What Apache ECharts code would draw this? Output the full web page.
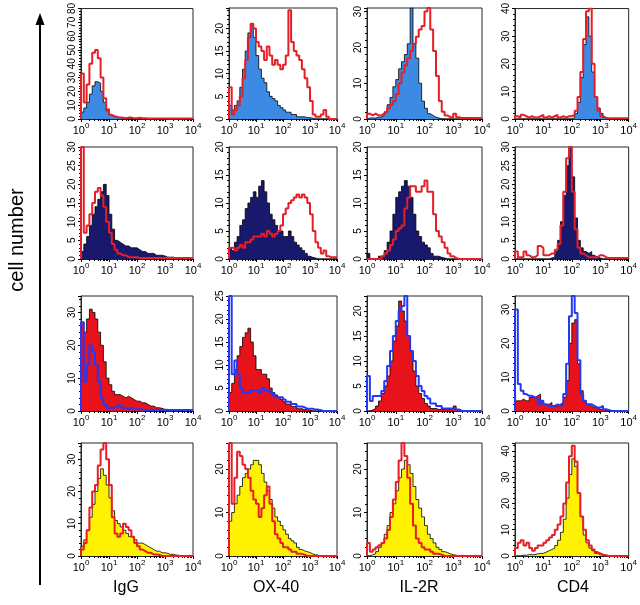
<!DOCTYPE html>
<html><head><meta charset="utf-8">
<script src="https://cdn.jsdelivr.net/npm/echarts@6/dist/echarts.min.js"></script>
<style>html,body{margin:0;padding:0;background:#fff}#c{width:640px;height:605px}</style>
</head><body><div id="c"></div>
<script>
// ---- categories / axis settings ----
const markers = ['IgG', 'OX-40', 'IL-2R', 'CD4'];
const axisLabel = 'cell number';
const yMaxes = [[80, 24.5, 31, 40], [30, 20, 20, 30], [35, 25, 23, 34], [35, 26, 26, 43]];
const yIntervals = [[10, 5, 10, 10], [5, 5, 5, 5], [10, 5, 5, 10], [10, 10, 10, 10]];
const xDecades = [0, 1, 2, 3, 4];

// ---- histogram counts, 10 bins per decade from 10^0 to 10^4 ----
// row 1
const iggFill1 = [5,8,12,18,24,27,26,20,12,6, 3,2,1.5,1,1,0.5,0.5,0.5,0.3,0.3, 0.5,0.3,0.2];
const iggLine1 = [33,12,25,40,48,50,44,30,15,7, 3,2,1.5,1,1,0.5,1,1,0.5,0.5, 1,0.5,0.5,0.3,0.3,0.3,0.3,0.3,0.3,0.3, 0.3,0.3,0.3,0.3,0.3,0.3,0.3,0.3,0.3,0.3];
const ox40Fill1 = [3,2,3,4,7,11,15,19,21,18, 14,11,9,8,6,5,4.5,4,3,2.5, 2,1.5,1.5,1,1,0.5,0.5,0.5,0.3,0.3, 0.2];
const ox40Line1 = [7,1,2,3,5,9,13,18,21,20, 17,16,15,13,16,14,12,13,12,11, 12,14,24,17,15,14,13,11,9,7, 4,1,0.5,0.5,1,2,0.5,0,0,0];
const il2rFill1 = [0.3,0.3,0.3,0.5,0.5,1,2,4,6,9, 11,14,16,18,21,31,21,17,10,5, 3,1.5,1,0.5,0.3];
const il2rLine1 = [1.5,1,1.5,1,1,1.5,2,3,4,5, 7,10,13,15,17,19,21,23,25,26, 30,31,25,19,12,5,2,1,0.5,0.5, 1.5,0.5,0.3,0.3,0.3,0.3,0.3,0.3,0.3,0.3];
const cd4Fill1 = [0,0,0,0,0,0,0,0,0,0, 0,0,0,0,0,0,0,0,0,0, 0.5,2,6,15,27,37,30,17,8,4, 2,0.5];
const cd4Line1 = [1,0.5,1.5,1,0.5,1,0.5,0.5,1,1.5, 0.5,1,0.5,1,1.5,0.5,1,0.5,1,1, 1.5,3,8,17,29,39,40,20,8,3, 1,0.5,0.3,0.3,0.3,0.3,0.3,0.3,0.3,0.3];
// row 2
const iggFill2 = [2,4,6,9,12,14,16,18,20,17, 12,8,5,4.5,4,3.5,3.5,3,3,3, 2.5,2,2,1.5,1.5,1.5,1,1,1,0.8, 0.5,0.5,0.5,0.3,0.3,0.2];
const iggLine2 = [30,7,9,12,15,18,19,17,14,10, 7,4,2.5,1.5,1,1,0.5,0.5,0.5,0.5, 0.3,0.3,0.3,0.3,0.3,0.3,0.3,0.3,0.3,0.3, 0.3,0.3,0.3,0.3,0.3,0.3,0.3,0.3,0.3,0.3];
const ox40Fill2 = [2,1.5,3,4,6,7,9,10,11,12, 11,13,14,12,10,8,7,6,5,5, 4,4,5,4,3,2.5,2,1.5,1,0.5, 0.3,0.2];
const ox40Line2 = [2,2,1.5,2,2.5,2,3,3,3.5,4, 4,4,4.5,4,5,4.5,4,4.5,5,6, 8,9,10,10.5,11,11.5,11,11.5,11,10, 8,5,3,2,1,1.5,0.5,0.3,0.3,0.3];
const il2rFill2 = [1,0,0,0,0.5,0.5,1.5,3,5,8, 11,12,13,14,13,11,8,5,4,3, 2.5,2,1,0.5,0.5,0.3,0.2];
const il2rLine2 = [0,0,0,0,0,0.5,1,1.5,2.5,3.5, 5,5.5,6,9,11,13,13,12,12,13, 14,12,12,8,5,4,3,2,1,0.5, 0.2];
const cd4Fill2 = [0,0,0,0,0,0,0,0,0,0, 0,0,0.3,0.5,2,5,10,17,25,30, 22,11,5,3,2,1.5,2,1,0.5,0.3];
const cd4Line2 = [2,0.5,0.5,2,1,0.5,0.5,1,3.5,3, 1,1,1.5,1.5,2.5,4,9,18,27,30, 18,8,3,1.5,1,0.5,0.5,0.5,0.5,1, 1,0.5,0.3,0.3,0.3,0.3,0.3,0.3,0.3,0.3];
// row 3
const iggFill3 = [27,24,28,31,30,28,24,20,15,10, 8,6,5,5,4.5,4,4.5,4,3.5,3, 3,2.5,2.5,2,1.5,1.5,1,1,0.8,0.5, 0.5,0.3,0.3,0.2];
const iggLine3 = [27,9,14,20,18,14,9,4,2,1, 1,1,1.5,2,1,1,0.5,1,0.5,0.5, 0.5,0.5,0.3,0.3,0.3,0.3,0.3,0.3,0.3,0.3, 0.3,0.3,0.3,0.3,0.3,0.3,0.3,0.3,0.3,0.3];
const ox40Fill3 = [4,6,9,12,14,16,17,18,15,12, 9,9,8,8,7,5,4,3.5,3,2.5, 2,1.5,1.5,1,1,0.5,0.5,0.3,0.3,0.2];
const ox40Line3 = [25,8,11,8,5,4,4,4,4.5,4.5, 4.5,4,5,4.5,4.5,4,3.5,3,3,3, 2.5,2,2,1.5,1.5,1,1,0.8,0.5,0.5, 0.5,0.3,0.3,0.2];
const il2rFill3 = [0,0.2,0.5,1,2,3.5,5,7,10,14, 17,22,20,18,15,12,8,5,3.5,2.5, 1.5,1,0.5,0.5,0.3,0.3,0.3,0.3,0.3,0.5, 1,0.3];
const il2rLine3 = [7,2,3,3,3,4,6,9,12,15, 18,20,21,23,15,12,10,7,5,4, 3,2.5,1.5,1.5,1,1,0.5,0.5,0.5,0.5, 0.3,0.3];
const cd4Fill3 = [3,3,3.5,3,3,4,4,4.5,5,3, 2,2,2.5,1.5,1.5,2,2.5,4,9,20, 26,27,14,6,3,2,1.5,1,1,0.5, 0.5,0.3];
const cd4Line3 = [30,8,6,5,4.5,4.5,4,4,2,3, 2,1.5,1.5,1.5,2,1.5,2,5,14,28, 34,29,15,5,3,2,2,1.5,1,1, 1.5,0.5,0.3];
// row 4
const iggFill4 = [3,5,8,12,16,20,24,27,25,22, 18,14,11,10,9,8,7,6,6,5, 4,4,3.5,3,2.5,2,1.5,1.5,1,1, 0.8,0.5,0.5,0.3,0.2];
const iggLine4 = [2,4,8,15,20,22,28,33,35,30, 22,12,7,6,7,10,9,8,6,4, 3,2,1.5,1,1,0.5,0.5,0.3];
const ox40Fill4 = [8,10,12,14,16,18,19,20,21,22, 22,21,19,17,15,13,11,9,8,7, 6,5,4,3.5,3,2,1.5,1.2,1,0.8, 0.5,0.3,0.2];
const ox40Line4 = [26,12,18,24,23,21,20,18,15,13, 12,9,11,14,16,12,8,5,4,3, 2,2,1.5,1,1,0.5,0.5,0.3];
const il2rFill4 = [0,0.3,0.5,1,2,3,5,7,10,12, 15,18,20,22,21,19,16,13,11,9, 7,5,4,3,2,1.5,1,0.8,0.5,0.3, 0.2];
const il2rLine4 = [3,1,1.5,2,2.5,3,4,6,9,13, 17,22,26,23,18,12,7,4,3,2, 1.5,1.5,1,0.5,0.5,0.3];
const cd4Fill4 = [0,0,0.3,0.3,0.5,0.5,0.5,0.8,1,1, 1.5,2,2.5,3,4,6,9,14,22,31, 37,34,24,15,8,5,3,2,1,0.5, 0.3];
const cd4Line4 = [3,5,6,4,5,3,2,3,4,4, 5,6,7,8,10,12,15,20,28,38, 42,36,24,15,10,6,4,2.5,1.5,1, 0.5,0.3];

const fills = [[iggFill1, ox40Fill1, il2rFill1, cd4Fill1], [iggFill2, ox40Fill2, il2rFill2, cd4Fill2],
               [iggFill3, ox40Fill3, il2rFill3, cd4Fill3], [iggFill4, ox40Fill4, il2rFill4, cd4Fill4]];
const lines = [[iggLine1, ox40Line1, il2rLine1, cd4Line1], [iggLine2, ox40Line2, il2rLine2, cd4Line2],
               [iggLine3, ox40Line3, il2rLine3, cd4Line3], [iggLine4, ox40Line4, il2rLine4, cd4Line4]];

// ---- layout & styles ----
const colLeft = [81, 229, 367, 515], colWidth = [112, 108, 115, 115];
const rowTop = [8, 147, 296, 443], rowHeight = [111, 112, 115, 113];
const rowFillColor = ['#3c8ae4', '#18186c', '#e8121b', '#fff200'];
const rowLineColor = ['#e61e26', '#e61e26', '#2438f5', '#e61e26'];
const labelX = [126, 276, 419, 573];
const FONT = 'Liberation Sans';
const NB = 40;
const binStart = Array.from({length: NB}, (_, i) => Math.pow(10, i / 10));

function hist(vals) {
  const d = [[1, 0]];
  for (let i = 0; i < NB; i++) d.push([binStart[i], vals[i] || 0]);
  d.push([10000, vals[NB - 1] || 0]);
  return d;
}

const grid = [], xAxis = [], yAxis = [], series = [];
for (let r = 0; r < 4; r++) {
  for (let c = 0; c < 4; c++) {
    const k = r * 4 + c;
    const itv = yIntervals[r][c];
    grid.push({left: colLeft[c], top: rowTop[r], width: colWidth[c], height: rowHeight[r],
      show: true, borderColor: '#1e2a22', borderWidth: 1, backgroundColor: '#fff'});
    xAxis.push({type: 'log', logBase: 10, min: 1, max: 10000, gridIndex: k,
      axisLine: {show: true, lineStyle: {color: '#1e2a22', width: 1}},
      axisTick: {show: true, length: 3, lineStyle: {color: '#000'}},
      minorTick: {show: true, splitNumber: 9, length: 2, lineStyle: {color: '#000'}},
      splitLine: {show: false},
      axisLabel: {margin: 3, showMinLabel: true, showMaxLabel: true,
        formatter: v => '{b|10}{s|' + Math.round(Math.log10(v)) + '}',
        rich: {b: {fontSize: 11, fontFamily: FONT, color: '#000', verticalAlign: 'bottom'},
               s: {fontSize: 8, fontFamily: FONT, color: '#000', verticalAlign: 'top', padding: [0, 0, 6, 0]}}}});
    yAxis.push({type: 'value', min: 0, max: yMaxes[r][c], interval: itv, gridIndex: k,
      axisLine: {show: true, lineStyle: {color: '#1e2a22', width: 1}},
      axisTick: {show: true, length: 3, lineStyle: {color: '#000'}},
      minorTick: {show: true, splitNumber: 5, length: 2, lineStyle: {color: '#000'}},
      splitLine: {show: false},
      axisLabel: {rotate: 90, fontSize: 10, fontFamily: FONT, color: '#000', margin: 4,
        formatter: v => (Math.abs(v / itv - Math.round(v / itv)) < 1e-6 ? String(v) : '')}});
    series.push({type: 'line', xAxisIndex: k, yAxisIndex: k, step: 'end', showSymbol: false,
      data: hist(fills[r][c]), lineStyle: {color: '#000', width: 0.8},
      areaStyle: {color: rowFillColor[r], opacity: 1}, z: 2, silent: true});
    series.push({type: 'line', xAxisIndex: k, yAxisIndex: k, step: 'end', showSymbol: false,
      data: hist(lines[r][c]), lineStyle: {color: rowLineColor[r], width: 2}, z: 3, silent: true});
  }
}

const graphic = [
  {type: 'text', x: 17, y: 240, rotation: Math.PI / 2,
   style: {text: axisLabel, fontSize: 20, fontFamily: FONT, fill: '#000', align: 'center', verticalAlign: 'middle'}},
  {type: 'line', shape: {x1: 40, y1: 585, x2: 40, y2: 22}, style: {stroke: '#000', lineWidth: 2}},
  {type: 'polygon', shape: {points: [[40, 13], [35.5, 25], [44.5, 25]]}, style: {fill: '#000'}}
];
markers.forEach((m, i) => graphic.push({type: 'text', x: labelX[i], y: 588,
  style: {text: m, fontSize: 16, fontFamily: FONT, fill: '#000', align: 'center', verticalAlign: 'middle'}}));

const chart = echarts.init(document.getElementById('c'), null, {renderer: 'canvas'});
chart.setOption({animation: false, backgroundColor: '#fff', grid, xAxis, yAxis, series, graphic});
</script>
</body></html>
